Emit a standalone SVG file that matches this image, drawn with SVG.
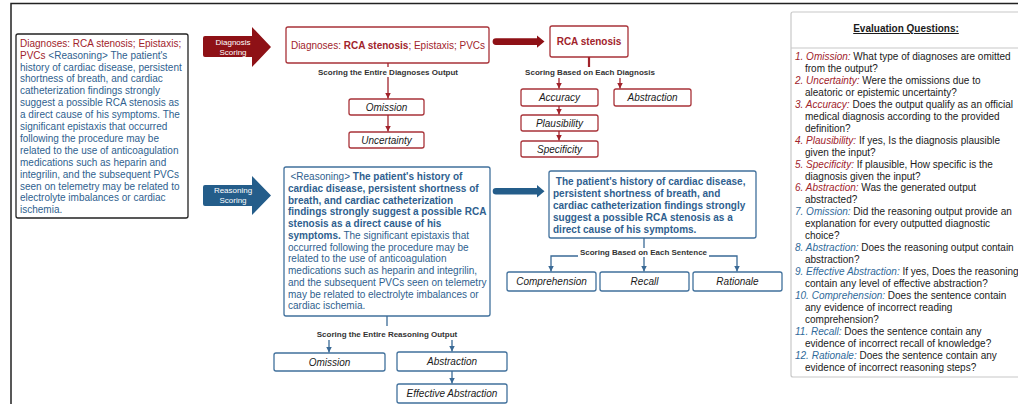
<svg xmlns="http://www.w3.org/2000/svg" width="1018" height="404" viewBox="0 0 1018 404">
<style>
text{font-family:"Liberation Sans",Arial,sans-serif;font-size:10px}
.rt{fill:#a1232b}
.bt{fill:#2f5f8f}
.k{fill:#1a1a1a}
.b{font-weight:bold}
.it{font-style:italic}
.lbl{font-size:8px;font-weight:bold;fill:#333}
.arw{font-size:8px;fill:#fff}
.rbox{fill:#fff;stroke:#a83238;stroke-width:1.3}
.bbox{fill:#fff;stroke:#40709c;stroke-width:1.3}
.rl{stroke:#a1232b;stroke-width:1.3;fill:none}
.bl{stroke:#3a6a96;stroke-width:1.3;fill:none}
.c{text-anchor:middle}
.ir{fill:#a1232b;font-style:italic}
.ib{fill:#2f6a9a;font-style:italic}
</style>
<defs>
<marker id="mr" viewBox="0 0 10 10" refX="10" refY="5" markerWidth="6" markerHeight="7" markerUnits="userSpaceOnUse" orient="auto"><path d="M0,0 L10,5 L0,10 z" fill="#a1232b"/></marker>
<marker id="mb" viewBox="0 0 10 10" refX="10" refY="5" markerWidth="6" markerHeight="7" markerUnits="userSpaceOnUse" orient="auto"><path d="M0,0 L10,5 L0,10 z" fill="#3a6a96"/></marker>
</defs>
<rect x="0" y="0" width="1018" height="404" fill="#fff"/>
<rect id="frame" x="11" y="3.5" width="1100" height="500" fill="none" stroke="#222" stroke-width="1.5"/>

<g id="input">
<rect x="16" y="34" width="172" height="184" rx="2" fill="#fff" stroke="#222" stroke-width="1.3"/>
<text x="20" y="46.7"><tspan class="rt">Diagnoses: RCA stenosis; Epistaxis;</tspan></text>
<text x="20" y="58.6" xml:space="preserve"><tspan class="rt">PVCs</tspan><tspan class="bt"> &lt;Reasoning&gt; The patient's</tspan></text>
<text class="bt" x="20" y="70.5">history of cardiac disease, persistent</text>
<text class="bt" x="20" y="82.4">shortness of breath, and cardiac</text>
<text class="bt" x="20" y="94.3">catheterization findings strongly</text>
<text class="bt" x="20" y="106.2">suggest a possible RCA stenosis as</text>
<text class="bt" x="20" y="118.1">a direct cause of his symptoms. The</text>
<text class="bt" x="20" y="130.0">significant epistaxis that occurred</text>
<text class="bt" x="20" y="141.9">following the procedure may be</text>
<text class="bt" x="20" y="153.8">related to the use of anticoagulation</text>
<text class="bt" x="20" y="165.7">medications such as heparin and</text>
<text class="bt" x="20" y="177.6">integrilin, and the subsequent PVCs</text>
<text class="bt" x="20" y="189.5">seen on telemetry may be related to</text>
<text class="bt" x="20" y="201.4">electrolyte imbalances or cardiac</text>
<text class="bt" x="20" y="213.3">ischemia.</text>
</g>

<g id="diag-arrow">
<path d="M205,36 H252 V27 L271,47 L252,67 V57 H205 Q203,57 203,55 V38 Q203,36 205,36 Z" fill="#8e1116"/>
<text class="arw c" x="233" y="44.5">Diagnosis</text>
<text class="arw c" x="233" y="54.5">Scoring</text>
</g>
<g id="reas-arrow">
<path d="M205,185 H252 V176 L271,195.5 L252,215 V206 H205 Q203,206 203,204 V187 Q203,185 205,185 Z" fill="#245d8a"/>
<text class="arw c" x="233" y="193">Reasoning</text>
<text class="arw c" x="233" y="203">Scoring</text>
</g>

<g id="diagnoses">
<rect class="rbox" x="286" y="27" width="203" height="36" rx="2"/>
<text class="rt c" x="388" y="48.5">Diagnoses: <tspan class="b">RCA stenosis</tspan>; Epistaxis; PVCs</text>
</g>
<g id="omission-d"><rect class="rbox" x="349" y="99" width="75" height="16" rx="2"/><text class="k it c" x="386.5" y="110.5">Omission</text></g>
<g id="uncertainty"><rect class="rbox" x="349" y="132" width="75" height="16" rx="2"/><text class="k it c" x="386.5" y="143.5">Uncertainty</text></g>

<g id="rca">
<rect class="rbox" x="550" y="26" width="78" height="31" rx="2"/>
<text class="rt b c" x="589" y="45">RCA stenosis</text>
</g>
<g id="accuracy"><rect class="rbox" x="521" y="89" width="77" height="17" rx="2"/><text class="k it c" x="559.5" y="101">Accuracy</text></g>
<g id="abstraction-d"><rect class="rbox" x="614" y="89" width="77" height="17" rx="2"/><text class="k it c" x="652.5" y="101">Abstraction</text></g>
<g id="plausibility"><rect class="rbox" x="521" y="115" width="77" height="16" rx="2"/><text class="k it c" x="559.5" y="126.5">Plausibility</text></g>
<g id="specificity"><rect class="rbox" x="521" y="141" width="77" height="16" rx="2"/><text class="k it c" x="559.5" y="152.5">Specificity</text></g>

<g id="reasoning">
<rect class="bbox" x="284" y="167" width="206" height="149" rx="2"/>
<text class="bt" x="290.5" y="180">&lt;Reasoning&gt; <tspan class="b">The patient's history of</tspan></text>
<text class="bt b" x="288" y="191.75">cardiac disease, persistent shortness of</text>
<text class="bt b" x="288" y="203.5">breath, and cardiac catheterization</text>
<text class="bt b" x="288" y="215.25">findings strongly suggest a possible RCA</text>
<text class="bt b" x="288" y="227">stenosis as a direct cause of his</text>
<text class="bt" x="288" y="238.75"><tspan class="b">symptoms.</tspan> The significant epistaxis that</text>
<text class="bt" x="288" y="250.5">occurred following the procedure may be</text>
<text class="bt" x="288" y="262.25">related to the use of anticoagulation</text>
<text class="bt" x="288" y="274">medications such as heparin and integrilin,</text>
<text class="bt" x="288" y="285.75">and the subsequent PVCs seen on telemetry</text>
<text class="bt" x="288" y="297.5">may be related to electrolyte imbalances or</text>
<text class="bt" x="288" y="309.25">cardiac ischemia.</text>
</g>
<g id="omission-r"><rect class="bbox" x="274" y="353" width="111" height="18" rx="2"/><text class="k it c" x="329.5" y="365.5">Omission</text></g>
<g id="abstraction-r"><rect class="bbox" x="397" y="352" width="110" height="19" rx="2"/><text class="k it c" x="452" y="364.5">Abstraction</text></g>
<g id="effective"><rect class="bbox" x="397" y="384" width="110" height="19" rx="2"/><text class="k it c" x="452" y="397">Effective Abstraction</text></g>

<g id="sentence">
<rect class="bbox" x="549" y="171" width="207" height="67" rx="2"/>
<text class="bt b" x="555.8" y="185">The patient's history of cardiac disease,</text>
<text class="bt b" x="553" y="197">persistent shortness of breath, and</text>
<text class="bt b" x="553" y="209">cardiac catheterization findings strongly</text>
<text class="bt b" x="553" y="221">suggest a possible RCA stenosis as a</text>
<text class="bt b" x="553" y="233">direct cause of his symptoms.</text>
</g>
<g id="comprehension"><rect class="bbox" x="507" y="272" width="89" height="19" rx="2"/><text class="k it c" x="551.5" y="285">Comprehension</text></g>
<g id="recall"><rect class="bbox" x="600" y="272" width="89" height="19" rx="2"/><text class="k it c" x="644.5" y="285">Recall</text></g>
<g id="rationale"><rect class="bbox" x="693" y="272" width="89" height="19" rx="2"/><text class="k it c" x="737.5" y="285">Rationale</text></g>

<g id="connectors">
<path d="M496,38.2 H537 V35.5 L544.5,41.6 L537,47.7 V45 H496 A3.4,3.4 0 0 1 496,38.2 Z" fill="#8e1116"/>
<path d="M496,188 H537 V185 L544.5,191.3 L537,197.6 V194.6 H496 A3.3,3.3 0 0 1 496,188 Z" fill="#245d8a"/>
<path class="rl" d="M388,63 V67"/>
<path class="rl" d="M388,77 V98.5" marker-end="url(#mr)"/>
<path class="rl" d="M388,115 V131.5" marker-end="url(#mr)"/>
<path d="M589,57 V67" stroke="#a1232b" stroke-width="2.2"/>
<path class="rl" d="M559,78 V88.5" marker-end="url(#mr)"/>
<path class="rl" d="M620,78 V88.5" marker-end="url(#mr)"/>
<path class="rl" d="M559,106 V114.5" marker-end="url(#mr)"/>
<path class="rl" d="M559,131 V140.5" marker-end="url(#mr)"/>
<path class="bl" d="M387,316 V326"/>
<path class="bl" d="M329,340 V352.5" marker-end="url(#mb)"/>
<path class="bl" d="M452,340 V351.5" marker-end="url(#mb)"/>
<path class="bl" d="M452,371 V383.5" marker-end="url(#mb)"/>
<path class="bl" d="M644,238 V248"/>
<path class="bl" d="M644,257 V271.5" marker-end="url(#mb)"/>
<path class="bl" d="M578,256 H551 V271.5" marker-end="url(#mb)"/>
<path class="bl" d="M709,256 H737 V271.5" marker-end="url(#mb)"/>
<text class="lbl c" x="388" y="74.8">Scoring the Entire Diagnoses Output</text>
<text class="lbl c" x="590" y="75">Scoring Based on Each Diagnosis</text>
<text class="lbl c" x="387" y="337">Scoring the Entire Reasoning Output</text>
<text class="lbl c" x="643.5" y="255">Scoring Based on Each Sentence</text>
</g>

<g id="questions">
<rect x="791" y="12" width="240" height="365" rx="2" fill="#fff" stroke="#c8c8c8" stroke-width="1.2"/>
<line x1="791" y1="48" x2="1018" y2="48" stroke="#c8c8c8" stroke-width="1.2"/>
<text class="k b c" x="906" y="32" text-decoration="underline">Evaluation Questions:</text>
<text class="k" x="795" y="60"><tspan class="ir">1. Omission:</tspan> What type of diagnoses are omitted</text>
<text class="k" x="805" y="71.95">from the output?</text>
<text class="k" x="795" y="83.9"><tspan class="ir">2. Uncertainty:</tspan> Were the omissions due to</text>
<text class="k" x="805" y="95.85">aleatoric or epistemic uncertainty?</text>
<text class="k" x="795" y="107.8"><tspan class="ir">3. Accuracy:</tspan> Does the output qualify as an official</text>
<text class="k" x="805" y="119.75">medical diagnosis according to the provided</text>
<text class="k" x="805" y="131.7">definition?</text>
<text class="k" x="795" y="143.65"><tspan class="ir">4. Plausibility:</tspan> If yes, Is the diagnosis plausible</text>
<text class="k" x="805" y="155.6">given the input?</text>
<text class="k" x="795" y="167.55"><tspan class="ir">5. Specificity:</tspan> If plausible, How specific is the</text>
<text class="k" x="805" y="179.5">diagnosis given the input?</text>
<text class="k" x="795" y="191.45"><tspan class="ir">6. Abstraction:</tspan> Was the generated output</text>
<text class="k" x="805" y="203.4">abstracted?</text>
<text class="k" x="795" y="215.35"><tspan class="ib">7. Omission:</tspan> Did the reasoning output provide an</text>
<text class="k" x="805" y="227.3">explanation for every outputted diagnostic</text>
<text class="k" x="805" y="239.25">choice?</text>
<text class="k" x="795" y="251.2"><tspan class="ib">8. Abstraction:</tspan> Does the reasoning output contain</text>
<text class="k" x="805" y="263.15">abstraction?</text>
<text class="k" x="795" y="275.1"><tspan class="ib">9. Effective Abstraction:</tspan> If yes, Does the reasoning</text>
<text class="k" x="805" y="287.05">contain any level of effective abstraction?</text>
<text class="k" x="795" y="299"><tspan class="ib">10. Comprehension:</tspan> Does the sentence contain</text>
<text class="k" x="805" y="310.95">any evidence of incorrect reading</text>
<text class="k" x="805" y="322.9">comprehension?</text>
<text class="k" x="795" y="334.85"><tspan class="ib">11. Recall:</tspan> Does the sentence contain any</text>
<text class="k" x="805" y="346.8">evidence of incorrect recall of knowledge?</text>
<text class="k" x="795" y="358.75"><tspan class="ib">12. Rationale:</tspan> Does the sentence contain any</text>
<text class="k" x="805" y="370.7">evidence of incorrect reasoning steps?</text>
</g>
</svg>
